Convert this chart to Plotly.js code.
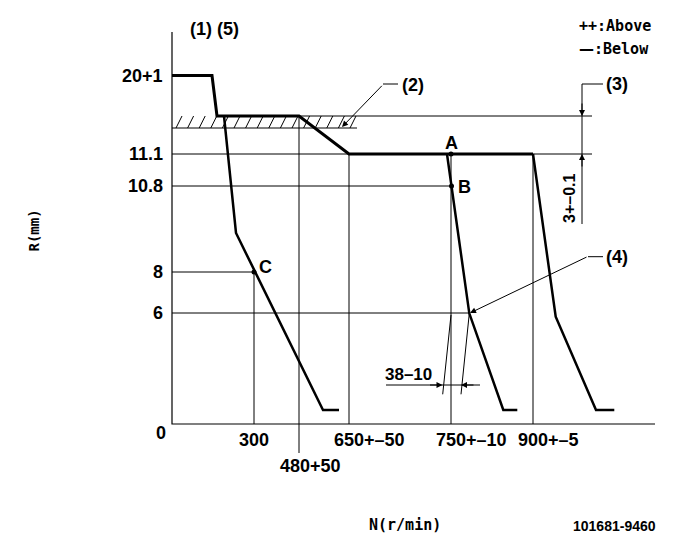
<!DOCTYPE html>
<html><head><meta charset="utf-8">
<script src="https://cdn.plot.ly/plotly-3.0.1.min.js"></script>
<style>html,body{margin:0;padding:0;background:#fff;}#chart{width:681px;height:549px;}</style>
</head><body><div id="chart"></div>
<script>
// Schematic drawing units: X = distance right of the R axis, Y = height above the N axis
const yTickVals = [348.5, 270, 238, 152, 111];
const yTickText = ['20+1', '11.1', '10.8', '8', '6'];
const xTickVals = [82, 177, 279, 361];
const xTickText = ['300', '650+\u201350', '750+\u201310', '900+\u20135'];
const x480Val = 127;
const x480Text = '480+50';

// full-load / plateau curve (thick)
const mainX = [0, 40, 45, 127, 177, 361];
const mainY = [348.5, 348.5, 308, 308, 270, 270];
// governor droop curves
const droop1X = [52, 64, 151, 167];
const droop1Y = [308, 191, 14, 14];
const droop2X = [275, 297.3, 331.3, 345.3];
const droop2Y = [270, 110.7, 14, 14];
const droop3X = [361, 383.7, 424, 442.3];
const droop3Y = [270, 107.3, 14, 14];

// measuring points
const pointNames = ['A', 'B', 'C'];
const pointX = [279, 279.5, 82];
const pointY = [270, 238, 152];

// horizontal guides [Y, X0, X1]
const hGuideY  = [308, 270, 238, 152, 111];
const hGuideX0 = [127, 0, 0, 0, 0];
const hGuideX1 = [420, 420, 279, 82, 297];
// vertical guides [X, Y0, Y1]
const vGuideX  = [82, 127, 177, 279, 361];
const vGuideY0 = [152, 308, 270, 270, 270];
const vGuideY1 = [0, -29, 0, 0, 0];

// hatched band (2)
const bandY = [296, 308];
const bandX = [4, 185];

// axes
const axisX = [0, 0, 483];
const axisY = [392, 0, 0];

const FN = "'Liberation Sans', Arial, sans-serif";
const FM = "'DejaVu Sans Mono', 'Liberation Mono', monospace";

function segs(list) {
  const x = [], y = [];
  list.forEach(s => { x.push(s[0], s[2], null); y.push(s[1], s[3], null); });
  return {x, y};
}

const thin = [];
hGuideY.forEach((v, i) => thin.push([hGuideX0[i], v, hGuideX1[i], v]));
vGuideX.forEach((v, i) => thin.push([v, vGuideY0[i], v, vGuideY1[i]]));
thin.push([0, bandY[0], bandX[1], bandY[0]]);           // band lower edge
thin.push([214, 39, 308, 39]);                          // 38-10 dimension line
thin.push([270.7, 29.7, 279, 109]);                     // 38-10 extension lines
thin.push([289, 29.7, 297.3, 110.7]);
thin.push([410, 340, 410, 200]);                        // (3) dimension line
thin.push([410, 340, 431, 340]);                        // (3) leader
thin.push([211, 340, 226, 340]);                        // (2) leader
thin.push([416, 167.3, 431, 167.3]);                    // (4) leader
const thinS = segs(thin);

const hatch = [];
for (let k = 0; k < 16; k++) {
  const x0 = bandX[0] + k * 11.6;
  hatch.push([x0, bandY[0], x0 + 6, bandY[1]]);
}
const hatchS = segs(hatch);

const black = '#000';
const traces = [
  {x: axisX, y: axisY, mode: 'lines', line: {color: black, width: 1.2}},
  {x: thinS.x, y: thinS.y, mode: 'lines', line: {color: black, width: 1}},
  {x: hatchS.x, y: hatchS.y, mode: 'lines', line: {color: black, width: 1}},
  {x: mainX, y: mainY, mode: 'lines', line: {color: black, width: 3}},
  {x: droop1X, y: droop1Y, mode: 'lines', line: {color: black, width: 2.5}},
  {x: droop2X, y: droop2Y, mode: 'lines', line: {color: black, width: 2.5}},
  {x: droop3X, y: droop3Y, mode: 'lines', line: {color: black, width: 2.5}},
  {x: pointX, y: pointY, mode: 'markers', marker: {color: black, size: 5}}
].map(t => Object.assign({type: 'scatter', hoverinfo: 'skip', showlegend: false, cliponaxis: false}, t));

const ann = [];
function txt(text, x, y, o) {
  ann.push(Object.assign({text, x, y, xref: 'x', yref: 'y', showarrow: false,
    font: {family: FN, size: 18, color: black, weight: 'bold'}}, o || {}));
}
function arrow(x, y, ax, ay) {
  ann.push({text: '', x, y, ax, ay, xref: 'x', yref: 'y', showarrow: true,
    arrowhead: 2, arrowsize: 1.2, arrowwidth: 1, arrowcolor: black, standoff: 0});
}
yTickVals.forEach((v, i) => txt(yTickText[i], -7, v, {xanchor: 'right'}));
txt('0', -11, -9);
xTickVals.forEach((v, i) => txt(xTickText[i], v, -16, {xanchor: 'left', xshift: -17}));
txt(x480Text, x480Val, -42, {xanchor: 'left', xshift: -21});
txt('(1) (5)', 42.5, 395);
txt('(2)', 228, 339.5, {xanchor: 'left'});
txt('(3)', 432, 340, {xanchor: 'left'});
txt('(4)', 432, 167, {xanchor: 'left'});
pointNames.forEach((n, i) => txt(n, pointX[i] + [0.5, 12.5, 11][i], pointY[i] + [11, -1, 5][i]));
txt('38\u201310', 236, 50, {font: {family: FN, size: 17, color: black, weight: 'bold'}});
txt('3+\u20130.1', 397.5, 225.5, {textangle: -90, font: {family: FN, size: 16, color: black, weight: 'bold'}});
txt('++:Above', 405, 398, {xanchor: 'left', font: {family: FM, size: 15, color: black, weight: 'bold'}});
txt('<span style="font-family:DejaVu Sans">\u2014</span>:Below', 405, 375, {xanchor: 'left', font: {family: FM, size: 15, color: black, weight: 'bold'}});
txt('R(mm)', -138.5, 193, {textangle: -90, font: {family: FM, size: 14, color: black, weight: 'bold'}});
txt('N(r/min)', 232.5, -101, {font: {family: FM, size: 15, color: black, weight: 'bold'}});
txt('101681-9460', 442.5, -102, {font: {family: FN, size: 14, color: black, weight: 'bold'}});

arrow(410, 308, 0, -14);
arrow(410, 270, 0, 14);
arrow(270.5, 39, -14, 0);
arrow(289, 39, 14, 0);
arrow(298, 111, 118, -56.6);
arrow(170, 297, 41.3, -42.7);

const layout = {
  width: 681, height: 549, autosize: false,
  margin: {l: 0, r: 0, t: 0, b: 0, pad: 0},
  paper_bgcolor: '#fff', plot_bgcolor: '#fff',
  showlegend: false,
  xaxis: {range: [-172, 509], visible: false, fixedrange: true},
  yaxis: {range: [-125, 424], visible: false, fixedrange: true},
  annotations: ann
};
Plotly.newPlot('chart', traces, layout, {staticPlot: true, displayModeBar: false});
</script></body></html>
